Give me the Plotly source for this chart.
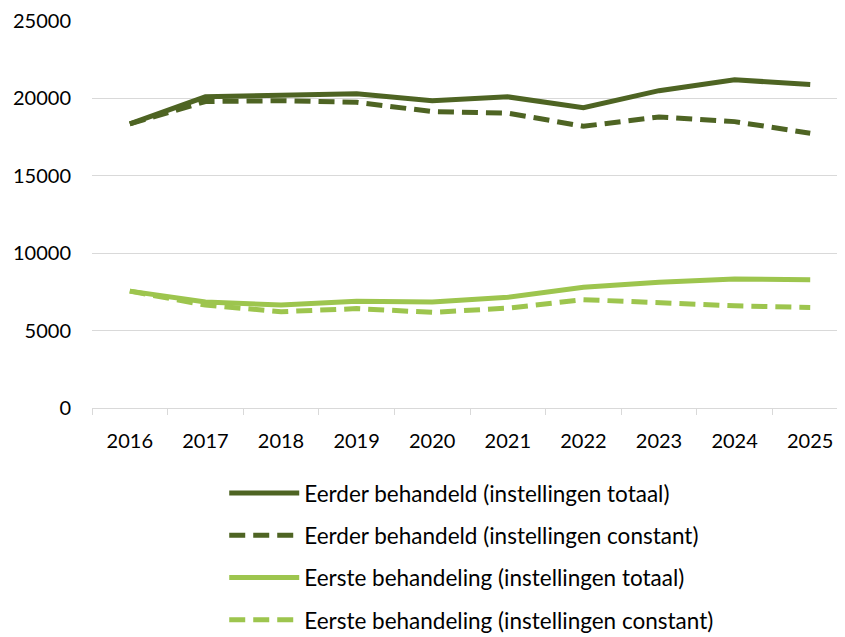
import plotly.graph_objects as go

years = ["2016", "2017", "2018", "2019", "2020", "2021", "2022", "2023", "2024", "2025"]

eerder_totaal = [18350, 20100, 20200, 20300, 19850, 20100, 19400, 20500, 21200, 20900]
eerder_constant = [18350, 19800, 19850, 19750, 19150, 19050, 18200, 18800, 18500, 17750]
eerste_totaal = [7550, 6850, 6650, 6890, 6850, 7150, 7800, 8120, 8340, 8290]
eerste_constant = [7550, 6650, 6220, 6420, 6180, 6450, 7000, 6800, 6600, 6500]

DARK = "#4E6423"
LIGHT = "#9DC54E"

series = [
    ("Eerder behandeld (instellingen totaal)", eerder_totaal, DARK, "solid"),
    ("Eerder behandeld (instellingen constant)", eerder_constant, DARK, "16px,8px"),
    ("Eerste behandeling (instellingen totaal)", eerste_totaal, LIGHT, "solid"),
    ("Eerste behandeling (instellingen constant)", eerste_constant, LIGHT, "16px,8px"),
]

fig = go.Figure()
for i, (name, vals, color, dash) in enumerate(series):
    fig.add_trace(
        go.Scatter(
            x=years,
            y=vals,
            mode="lines",
            name=name,
            legendgroup=f"g{i}",
            line=dict(color=color, width=5, dash=dash),
        )
    )

FONT = "Lato, Carlito, sans-serif"

fig.update_xaxes(
    type="category",
    range=[-0.5, 9.46],
    automargin=False,
    showgrid=False,
    showline=True,
    linecolor="#D9D9D9",
    linewidth=1,
    ticks="outside",
    tickson="boundaries",
    ticklen=6,
    tickcolor="#D9D9D9",
    tickfont=dict(size=20, color="#000000", family=FONT),
    ticklabelstandoff=15,
)
fig.update_yaxes(
    range=[0, 25000],
    tickvals=[0, 5000, 10000, 15000, 20000, 25000],
    tickformat="d",
    automargin=False,
    showgrid=True,
    gridcolor="#D9D9D9",
    gridwidth=1,
    zeroline=False,
    showline=False,
    tickfont=dict(size=20, color="#000000", family=FONT),
    ticklabelstandoff=20,
)
# page body has an 8px margin, so the figure is a bit smaller than the window
fig.update_layout(
    width=837,
    height=629,
    margin=dict(l=84, r=0, t=13, b=229, autoexpand=False),
    plot_bgcolor="white",
    paper_bgcolor="white",
    font=dict(family=FONT, size=22.5, color="#000000"),
    showlegend=True,
    legend=dict(
        orientation="v",
        x=0.1756,
        xanchor="left",
        y=-0.165,
        yanchor="top",
        traceorder="grouped",
        tracegroupgap=10,
        itemwidth=70,
        font=dict(size=22.5, family=FONT),
    ),
)

fig.write_html("out.html")
